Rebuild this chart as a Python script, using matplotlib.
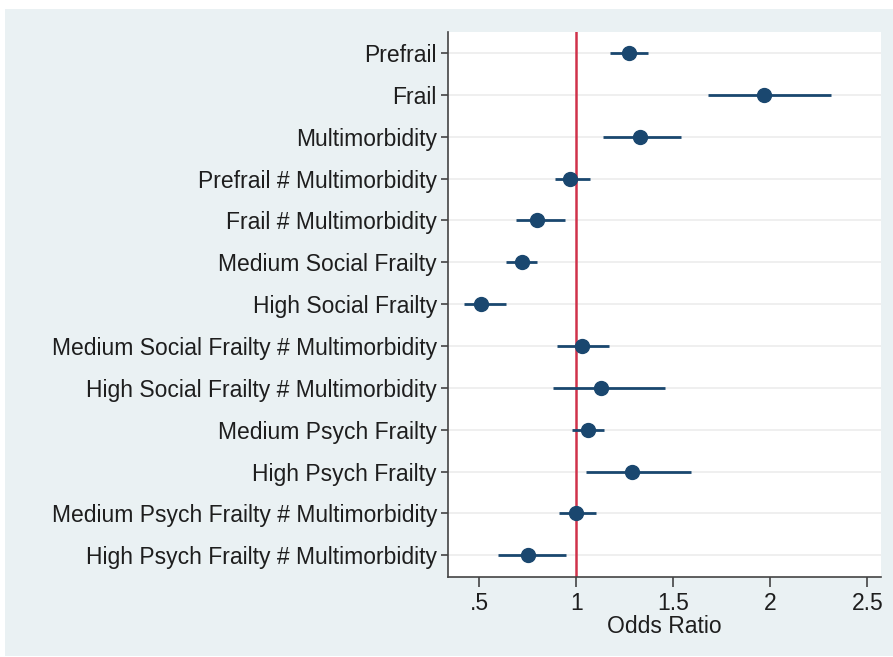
import numpy as np
import matplotlib.pyplot as plt
from matplotlib.patches import Rectangle

plt.rcParams['font.family'] = ['Liberation Sans', 'DejaVu Sans']

labels = [
    'Prefrail',
    'Frail',
    'Multimorbidity',
    'Prefrail # Multimorbidity',
    'Frail # Multimorbidity',
    'Medium Social Frailty',
    'High Social Frailty',
    'Medium Social Frailty # Multimorbidity',
    'High Social Frailty # Multimorbidity',
    'Medium Psych Frailty',
    'High Psych Frailty',
    'Medium Psych Frailty # Multimorbidity',
    'High Psych Frailty # Multimorbidity',
]
odds = [1.27, 1.97, 1.33, 0.97, 0.80, 0.72, 0.51, 1.03, 1.13, 1.06, 1.29, 1.00, 0.75]
ci_low = [1.175, 1.68, 1.14, 0.89, 0.69, 0.64, 0.42, 0.90, 0.88, 0.98, 1.05, 0.91, 0.60]
ci_high = [1.37, 2.31, 1.54, 1.07, 0.94, 0.80, 0.64, 1.17, 1.455, 1.145, 1.59, 1.10, 0.95]
xticks = [0.5, 1, 1.5, 2, 2.5]
xticklabels = ['.5', '1', '1.5', '2', '2.5']

navy = '#1a476f'
bg = '#eaf1f3'
txt = '#1e1e1e'
fs = 16.5

fig = plt.figure(figsize=(8.93, 6.57), dpi=100)
fig.patch.set_facecolor('white')
fig.patches.append(Rectangle((5 / 893, 0.0015), 1, 1 - 9 / 657 - 0.0015,
                             transform=fig.transFigure, facecolor=bg,
                             edgecolor='none', zorder=-10))

ax = fig.add_axes([448 / 893, 1 - 577 / 657, 433 / 893, 545 / 657])
ax.set_facecolor('white')

y = np.arange(len(labels))
for yy in y:
    ax.axhline(yy, color='#ececec', lw=1.2, zorder=0)

ax.axvline(1, color='#d0324a', lw=1.8, zorder=1)
ax.hlines(y, ci_low, ci_high, color=navy, lw=2, zorder=2)
ax.plot(odds, y, 'o', color=navy, markersize=10, zorder=3)

ax.set_ylim(len(labels) - 0.48, -0.5)
ax.set_xlim(0.34, 2.57)
ax.set_yticks(y)
ax.set_yticklabels(labels, fontsize=fs, color=txt)
ax.set_xticks(xticks)
ax.set_xticklabels(xticklabels, fontsize=fs, color=txt)
ax.set_xlabel('Odds Ratio', fontsize=fs, color=txt, labelpad=0)

ax.spines['top'].set_visible(False)
ax.spines['right'].set_visible(False)
for s in ('left', 'bottom'):
    ax.spines[s].set_color('#444444')
    ax.spines[s].set_linewidth(1.2)
ax.tick_params(axis='y', length=5, width=1.2, color='#444444', pad=3)
ax.tick_params(axis='x', length=7, width=1.2, color='#444444', pad=4)

fig.savefig('out.png', dpi=100, facecolor=fig.get_facecolor())
